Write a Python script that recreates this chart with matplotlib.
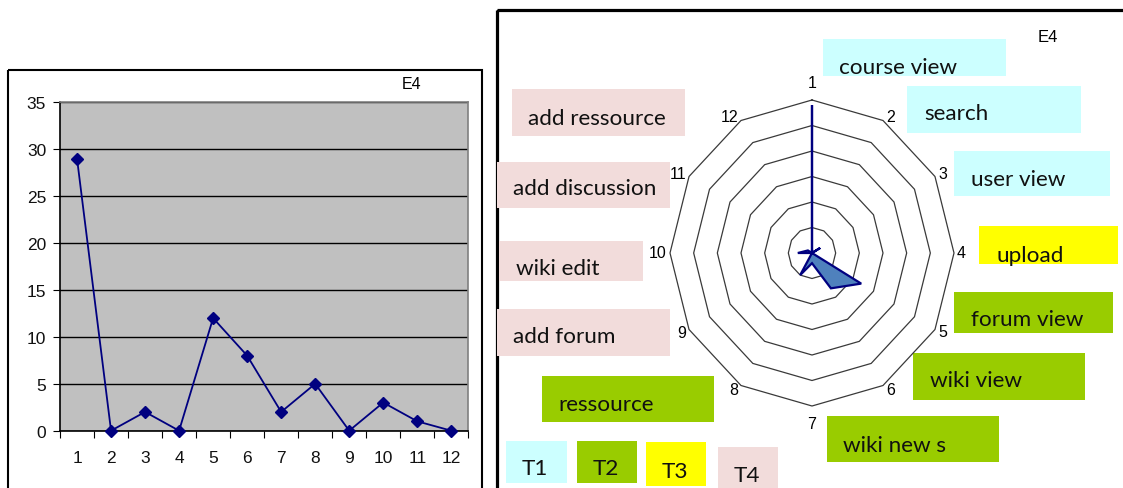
import numpy as np
import matplotlib
matplotlib.use("Agg")
import matplotlib.pyplot as plt
from matplotlib.patches import Rectangle
from matplotlib import font_manager

# données E4 : nombre d'actions par type d'activité (1..12)
categories = list(range(1, 13))
values = [29, 0, 2, 0, 12, 8, 2, 5, 0, 3, 1, 0]
activities = ["course view", "search", "user view", "upload", "forum view", "wiki view",
              "wiki new s", "ressource", "add forum", "wiki edit", "add discussion", "add ressource"]
activity_type = ["T1", "T1", "T1", "T3", "T2", "T2", "T2", "T2", "T4", "T4", "T4", "T4"]
types = ["T1", "T2", "T3", "T4"]
type_colors = {"T1": "#ccffff", "T2": "#99cc00", "T3": "#ffff00", "T4": "#f2dcdb"}

# police étroite si dispo (texte du schéma un peu étiré en hauteur)
try:
    font_manager.findfont(font_manager.FontProperties(family="Liberation Sans Narrow"),
                          fallback_to_default=False)
    box_font, box_size = "Liberation Sans Narrow", 18.5
except ValueError:
    box_font, box_size = "Lato", 16.2

W, H = 1123, 489
fig = plt.figure(figsize=(W / 100, H / 100), dpi=100)

def fpos(x0, y0, x1, y1):
    # pixels (origine en haut à gauche) -> fraction de figure
    return [x0 / W, 1 - y1 / H, (x1 - x0) / W, (y1 - y0) / H]

# calque de fond en pixels pour cadres et étiquettes
bg = fig.add_axes([0, 0, 1, 1])
bg.set_xlim(0, W)
bg.set_ylim(H, 0)
bg.axis("off")
bg.add_patch(Rectangle((8, 70.5), 474, 440, fill=False, lw=1.5, ec="black", clip_on=False))
bg.add_patch(Rectangle((496.5, 10.5), 700, 500, fill=False, lw=2.3, ec="black", clip_on=False))

# cadres colorés : x0, y0, x1, y1, x texte, ligne de base
box_layout = [
    (823, 40, 1006, 77, 839, 74),
    (907, 87, 1081, 134, 924, 120),
    (954, 152, 1110, 197, 971, 186),
    (979, 227, 1118, 265, 997, 262),
    (954, 293, 1113, 334, 971, 326),
    (913, 354, 1085, 401, 930, 387),
    (827, 417, 999, 463, 843, 452),
    (542, 377, 714, 423, 558, 411),
    (497, 310, 670, 357, 513, 343),
    (499, 242, 643, 282, 516, 275),
    (497, 163, 670, 209, 513, 195),
    (512, 90, 685, 137, 528, 125),
]
legend_layout = [
    (506, 442, 567, 484, 522, 475),
    (577, 442, 637, 484, 593, 475),
    (646, 443, 706, 487, 662, 478),
    (718, 448, 778, 492, 734, 482),
]
for name, t, (x0, y0, x1, y1, tx, ty) in zip(activities, activity_type, box_layout):
    bg.add_patch(Rectangle((x0, y0), x1 - x0, y1 - y0, fc=type_colors[t], ec="none"))
    bg.text(tx, ty, name, family=box_font, fontsize=box_size, va="baseline", ha="left", color="#111111")
for t, (x0, y0, x1, y1, tx, ty) in zip(types, legend_layout):
    bg.add_patch(Rectangle((x0, y0), x1 - x0, y1 - y0, fc=type_colors[t], ec="none", clip_on=False))
    bg.text(tx, ty, t, family=box_font, fontsize=box_size, va="baseline", ha="left", color="#111111")

# ---- graphique linéaire (gauche) ----
ax = fig.add_axes(fpos(60, 103.3, 468.3, 431.7))
ax.set_facecolor("#c0c0c0")
ax.plot(categories, values, color="#000080", lw=1.3, marker="D", markersize=6,
        markerfacecolor="#000080", markeredgecolor="#000080", clip_on=False, zorder=3)
ax.set_xlim(0.5, 12.5)
ax.set_ylim(0, 35)
ax.set_yticks(range(0, 36, 5))
ax.grid(axis="y", color="black", lw=1)
ax.set_axisbelow(True)
ax.set_xticks(np.arange(0.5, 13, 1))
ax.set_xticklabels([])
ax.set_xticks(categories, minor=True)
ax.set_xticklabels([str(c) for c in categories], minor=True)
ax.tick_params(axis="x", which="major", length=5, direction="out", color="black")
ax.tick_params(axis="x", which="minor", length=0, pad=14, labelsize=12.5)
ax.tick_params(axis="y", length=5, direction="out", pad=5, labelsize=12.5)
for lab in ax.get_xticklabels(minor=True) + ax.get_yticklabels():
    lab.set_family("Liberation Sans")
    lab.set_color("#111111")
for s in ["top", "right"]:
    ax.spines[s].set_color("#808080")
    ax.spines[s].set_linewidth(1.2)
for s in ["left", "bottom"]:
    ax.spines[s].set_color("black")
    ax.spines[s].set_linewidth(1.2)
fig.text(412 / W, 1 - 85 / H, "E4", family="Liberation Sans", fontsize=11.5, ha="center", va="center")

# ---- radar (droite) ----
rax = fig.add_axes(fpos(812 - 142, 254 - 153, 812 + 142, 254 + 153))
rax.set_xlim(-30, 30)
rax.set_ylim(-30, 30)
rax.axis("off")
theta = 2 * np.pi * np.arange(len(categories)) / len(categories)
ring_theta = np.append(theta, theta[0])
for r in range(5, 31, 5):
    rax.plot(r * np.sin(ring_theta), r * np.cos(ring_theta), color="#3a3a3a", lw=0.9, clip_on=False)
v = np.array(values + values[:1], dtype=float)
rax.fill(v * np.sin(ring_theta), v * np.cos(ring_theta), fc="#4f81bd", ec="#000080", lw=1.6,
         joinstyle="miter", zorder=3)
for c, th in zip(categories, theta):
    s, co = np.sin(th), np.cos(th)
    if abs(s) < 0.1:
        ha, dx, dy = "center", 0, 17.5 * np.sign(co)
    else:
        ha, dx, dy = ("left" if s > 0 else "right"), 3 * np.sign(s), 5 * co
    rax.annotate(str(c), (30 * s, 30 * co), xytext=(dx * 0.72, dy * 0.72), textcoords="offset points",
                 ha=ha, va="center", family="Liberation Sans", fontsize=11.5, annotation_clip=False)
fig.text(1048 / W, 1 - 37 / H, "E4", family="Liberation Sans", fontsize=12, ha="center", va="center")

fig.savefig("out.png", dpi=100)
